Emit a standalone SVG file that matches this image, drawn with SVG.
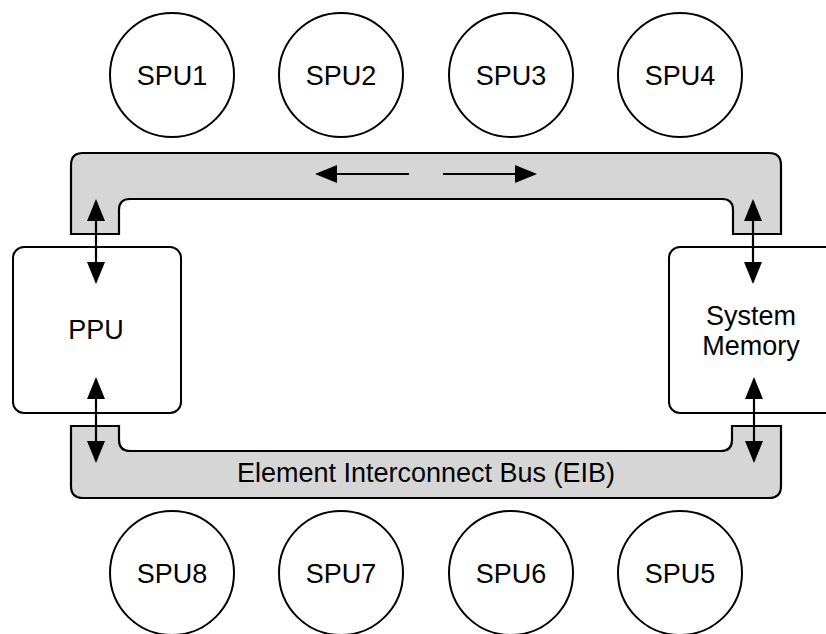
<svg xmlns="http://www.w3.org/2000/svg" width="826" height="634" viewBox="0 0 826 634">
<defs>
<style>
.lbl{font-family:"Liberation Sans",Arial,Helvetica,sans-serif;font-size:27px;fill:#000;text-anchor:middle}
.node{fill:#fff;stroke:#000;stroke-width:2}
.bus{fill:#d6d6d6;stroke:#000;stroke-width:2.2;stroke-linejoin:miter}
.conn{stroke:#000;stroke-width:2.2;fill:none}
</style>
<marker id="ah" markerUnits="userSpaceOnUse" markerWidth="22" markerHeight="18" viewBox="0 0 22 18" refX="20" refY="9" orient="auto-start-reverse">
<path d="M0,0 L22,9 L0,18 Z" fill="#000"/>
</marker>
</defs>
<rect width="826" height="634" fill="#fff"/>

<g id="bus-top">
<path class="bus" d="M71,234 L71,165 Q71,153 83,153 L769,153 Q781,153 781,165 L781,234 L733,234 L733,210 Q733,199 722,199 L130,199 Q119,199 119,210 L119,234 Z"/>
</g>
<g id="bus-bottom">
<path class="bus" d="M71,426 L119,426 L119,440 Q119,451 130,451 L721,451 Q732,451 732,440 L732,426 L781,426 L781,486 Q781,498 769,498 L83,498 Q71,498 71,486 Z"/>
<text class="lbl" x="426" y="482">Element Interconnect Bus (EIB)</text>
</g>

<g id="ppu">
<rect class="node" x="13" y="247" width="168" height="166" rx="11"/>
<text class="lbl" x="96" y="339">PPU</text>
</g>
<g id="system-memory">
<rect class="node" x="669" y="247" width="180" height="166" rx="11"/>
<text class="lbl" x="751" y="325">System</text>
<text class="lbl" x="751" y="355">Memory</text>
</g>

<g id="spu1"><circle class="node" cx="172" cy="75" r="62"/><text class="lbl" x="172" y="85">SPU1</text></g>
<g id="spu2"><circle class="node" cx="341" cy="75" r="62"/><text class="lbl" x="341" y="85">SPU2</text></g>
<g id="spu3"><circle class="node" cx="511" cy="75" r="62"/><text class="lbl" x="511" y="85">SPU3</text></g>
<g id="spu4"><circle class="node" cx="680" cy="75" r="62"/><text class="lbl" x="680" y="85">SPU4</text></g>
<g id="spu8"><circle class="node" cx="172" cy="573" r="62"/><text class="lbl" x="172" y="583">SPU8</text></g>
<g id="spu7"><circle class="node" cx="341" cy="573" r="62"/><text class="lbl" x="341" y="583">SPU7</text></g>
<g id="spu6"><circle class="node" cx="511" cy="573" r="62"/><text class="lbl" x="511" y="583">SPU6</text></g>
<g id="spu5"><circle class="node" cx="680" cy="573" r="62"/><text class="lbl" x="680" y="583">SPU5</text></g>

<g id="connectors">
<line class="conn" x1="96" y1="201" x2="96" y2="282" marker-start="url(#ah)" marker-end="url(#ah)"/>
<line class="conn" x1="753" y1="201" x2="753" y2="282" marker-start="url(#ah)" marker-end="url(#ah)"/>
<line class="conn" x1="96" y1="379" x2="96" y2="461" marker-start="url(#ah)" marker-end="url(#ah)"/>
<line class="conn" x1="754" y1="379" x2="754" y2="461" marker-start="url(#ah)" marker-end="url(#ah)"/>
<line class="conn" x1="409" y1="174" x2="317" y2="174" marker-end="url(#ah)"/>
<line class="conn" x1="443" y1="174" x2="535" y2="174" marker-end="url(#ah)"/>
</g>
</svg>
